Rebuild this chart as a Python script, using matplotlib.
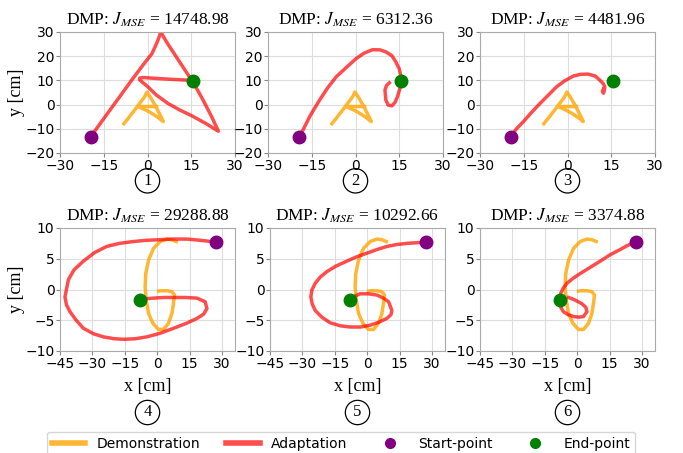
# Sáu ô: quỹ đạo chữ A và chữ G, minh hoạ và thích nghi DMP

import matplotlib
matplotlib.use("Agg")
import matplotlib.pyplot as plt
from matplotlib.lines import Line2D

plt.rcParams["mathtext.fontset"] = "stix"

# Dữ liệu
tieu_de = ["14748.98", "6312.36", "4481.96", "29288.88", "10292.66", "3374.88"]

# chữ A (hàng trên)
a_x = [-8.1, -6.5, -4.5, -2.5, -1.0, -0.2, 0.8, 2.2, 3.6, 4.8, 5.4, 4.2, 2.0, 0.0, -1.8, -3.1, -2.0, 0.0, 1.8, 3.1]
a_y = [-7.9, -5.5, -2.4, 0.8, 3.2, 5.2, 3.4, 0.6, -2.6, -5.4, -7.0, -5.8, -4.0, -2.6, -1.6, -0.8, -0.8, -0.8, -0.8, -0.8]
a_bat_dau = (-19.5, -13.3)
a_ket_thuc = (15.7, 9.8)

# chữ G (hàng dưới)
g_x = [8.8, 6.8, 4.5, 1.4, -1.7, -4.0, -5.3, -5.6, -5.1, -4.0, -2.0, 0.6, 2.9, 5.2, 6.8, 7.5, 8.0, 6.8, 4.5, 2.1, 0.6]
g_y = [7.8, 8.1, 8.2, 7.8, 6.7, 4.8, 2.6, 0.5, -1.7, -3.9, -5.5, -6.5, -6.5, -5.5, -3.9, -2.3, -0.9, -0.35, -0.2, -0.2, -0.25]
g_bat_dau = (27.3, 7.7)
g_ket_thuc = (-8.0, -1.7)

# đường thích nghi
do1_x = [-19.5, -15.0, -10.0, -5.0, -1.0, 1.5, 3.1, 4.0, 4.6, 5.5, 7.0, 10.0, 13.0, 16.0, 19.0, 22.0, 24.3,
         20.0, 15.0, 11.0, 7.0, 3.0, 0.0, -2.0, -2.8, -2.6, -1.4, 3.1, 8.9, 14.0, 15.7]
do1_y = [-13.3, -5.8, 2.5, 10.8, 17.2, 21.0, 25.2, 28.0, 30.0, 28.0, 25.0, 19.5, 14.0, 8.5, 2.0, -5.0, -11.0,
         -7.8, -4.5, -2.2, 0.5, 4.0, 7.5, 9.5, 10.4, 11.0, 11.2, 10.8, 10.4, 10.1, 9.8]
do2_x = [-19.5, -18.0, -15.5, -12.3, -9.5, -6.6, -3.0, 0.2, 3.0, 5.9, 8.5, 10.4, 12.5, 13.8, 15.0, 15.6, 15.3,
         14.4, 13.6, 12.5, 11.2, 10.4, 10.1, 10.6, 11.6]
do2_y = [-13.3, -10.5, -4.5, 1.9, 7.0, 11.5, 15.5, 19.0, 21.3, 22.7, 22.6, 21.8, 20.2, 17.7, 14.8, 11.5, 7.0,
         3.3, 1.0, -0.5, -0.2, 1.9, 6.0, 7.8, 9.0]
do3_x = [-19.5, -17.5, -15.1, -12.3, -9.4, -6.5, -3.7, -1.0, 2.0, 4.5, 7.1, 9.5, 11.1, 12.3, 12.8, 12.6, 12.3, 12.0, 12.3]
do3_y = [-13.3, -10.0, -7.0, -3.2, 0.5, 4.0, 7.4, 9.8, 11.8, 12.5, 12.6, 11.8, 10.1, 8.6, 7.4, 5.8, 4.7, 5.5, 6.5]
do4_x = [27.3, 20.0, 13.7, 7.0, 1.4, -5.0, -11.0, -17.5, -23.4, -29.0, -34.2, -38.5, -41.1, -42.7, -42.0, -40.4,
         -37.5, -34.2, -29.5, -24.9, -20.0, -15.6, -10.0, -4.8, 1.5, 7.6, 13.5, 18.4, 21.5, 23.0, 22.2, 18.4,
         13.0, 7.6, 3.0, -1.7, -5.0, -7.9]
do4_y = [7.7, 8.0, 8.2, 8.2, 8.1, 8.0, 7.8, 7.5, 7.0, 6.0, 4.6, 3.2, 1.6, -1.2, -2.5, -3.6, -5.0, -6.3, -7.2,
         -7.7, -8.0, -8.1, -8.0, -7.7, -7.1, -6.3, -5.5, -4.7, -4.0, -3.1, -2.0, -1.4, -1.3, -1.3, -1.3, -1.4,
         -1.5, -1.6]
do5_x = [27.3, 22.5, 18.4, 13.5, 9.1, 4.5, -0.2, -5.0, -9.5, -14.5, -18.7, -21.8, -24.1, -25.6, -26.1, -25.5,
         -24.1, -21.0, -17.2, -12.5, -7.9, -3.0, 1.4, 5.5, 9.1, 11.0, 11.4, 9.9, 7.5, 4.5, 0.5, -3.3, -6.4, -7.9]
do5_y = [7.7, 7.6, 7.5, 7.3, 7.0, 6.5, 5.9, 5.3, 4.6, 3.8, 2.9, 2.0, 1.0, -0.1, -1.2, -2.3, -3.4, -4.5, -5.4,
         -5.9, -6.1, -6.1, -5.8, -5.3, -4.7, -4.1, -3.4, -2.0, -1.4, -0.9, -0.7, -0.7, -1.2, -1.6]
do6_x = [27.3, 23.5, 19.9, 15.0, 10.6, 6.0, 1.4, -2.0, -4.8, -6.5, -7.6, -8.2, -7.6, -6.4, -4.2, -1.7, 0.8,
         2.9, 4.5, 4.0, 2.1, 0.0, -1.7, -4.0]
do6_y = [7.7, 7.2, 6.5, 5.6, 4.6, 3.6, 2.6, 1.8, 1.0, 0.2, -0.6, -2.0, -2.9, -3.6, -4.1, -4.4, -4.5, -4.4,
         -3.6, -2.9, -2.3, -1.9, -1.6, -1.3]

cac_duong = [(do1_x, do1_y), (do2_x, do2_y), (do3_x, do3_y),
             (do4_x, do4_y), (do5_x, do5_y), (do6_x, do6_y)]

# Vẽ
W, H = 683, 453
fig = plt.figure(figsize=(W / 100, H / 100), dpi=100)

trai_tren = [60, 268, 480]
trai_duoi = [60, 270, 480]
rong = 175

for i in range(6):
    if i < 3:
        l, top, bot = trai_tren[i], 32, 153
    else:
        l, top, bot = trai_duoi[i - 3], 228, 351
    ax = fig.add_axes([l / W, 1 - bot / H, rong / W, (bot - top) / H])
    if i < 3:
        ax.plot(a_x, a_y, color="orange", alpha=0.8, lw=2.5)
        bd, kt = a_bat_dau, a_ket_thuc
        ax.set_xlim(-30, 30)
        ax.set_ylim(-20, 30)
        ax.set_xticks([-30, -15, 0, 15, 30])
        ax.set_yticks([-20, -10, 0, 10, 20, 30])
    else:
        ax.plot(g_x, g_y, color="orange", alpha=0.8, lw=2.5)
        bd, kt = g_bat_dau, g_ket_thuc
        ax.set_xlim(-45, 36)
        ax.set_ylim(-10, 10)
        ax.set_xticks([-45, -30, -15, 0, 15, 30])
        ax.set_yticks([-10, -5, 0, 5, 10])
    x, y = cac_duong[i]
    ax.plot(x, y, color="red", alpha=0.7, lw=2.5, solid_joinstyle="round")
    ax.plot(*bd, "o", color="purple", ms=9)
    ax.plot(*kt, "o", color="green", ms=9)
    ax.grid(True, color="#dddddd", lw=0.8)
    ax.set_axisbelow(True)
    for s in ax.spines.values():
        s.set_color("#aaaaaa")
    ax.tick_params(labelsize=10, color="#888888", length=3, pad=1)
    ax.set_title("DMP: $J_{MSE}$ = " + tieu_de[i], family="Liberation Serif", fontsize=12.5, pad=5)
    if i % 3 == 0:
        ax.set_ylabel("y [cm]", family="Liberation Serif", fontsize=13, labelpad=0)
    if i < 3:
        yc = -0.23
    else:
        ax.set_xlabel("x [cm]", family="Liberation Serif", fontsize=13, labelpad=5)
        yc = -0.5
    ax.text(0.5, yc, str(i + 1), transform=ax.transAxes, ha="center", va="center",
            family="Liberation Serif", fontsize=12,
            bbox=dict(boxstyle="circle,pad=0.25", fc="none", ec="black", lw=0.9))

tay_cam = [Line2D([], [], color="orange", alpha=0.8, lw=4),
           Line2D([], [], color="red", alpha=0.7, lw=4),
           Line2D([], [], ls="", marker="o", color="purple", ms=7),
           Line2D([], [], ls="", marker="o", color="green", ms=7)]
fig.legend(tay_cam, ["Demonstration", "Adaptation", "Start-point", "End-point"],
           loc="upper center", bbox_to_anchor=(0.499, 0.047), borderaxespad=0, ncol=4, fontsize=10,
           handlelength=2.4, columnspacing=1.9, borderpad=0.35, frameon=True)

fig.savefig("out.png", dpi=100)
